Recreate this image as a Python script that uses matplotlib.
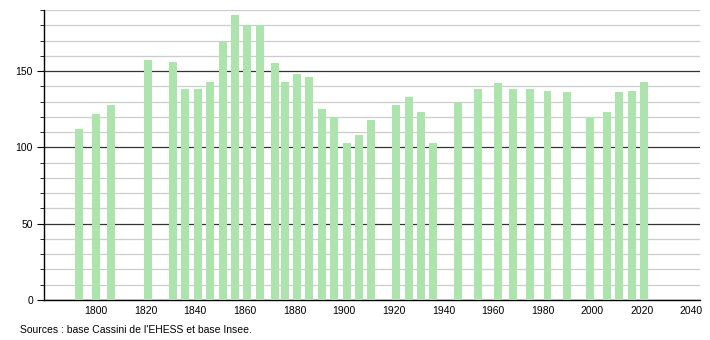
import matplotlib
matplotlib.use('Agg')
import matplotlib.pyplot as plt
from matplotlib.ticker import MultipleLocator

# census years and population
years = [1793, 1800, 1806, 1821, 1831, 1836, 1841, 1846, 1851, 1856, 1861,
         1866, 1872, 1876, 1881, 1886, 1891, 1896, 1901, 1906, 1911, 1921,
         1926, 1931, 1936, 1946, 1954, 1962, 1968, 1975, 1982, 1990, 1999,
         2006, 2011, 2016, 2021]
population = [112, 122, 128, 157, 156, 138, 138, 143, 169, 187, 180,
              180, 155, 143, 148, 146, 125, 120, 103, 108, 118, 128,
              133, 123, 103, 129, 138, 142, 138, 138, 137, 136, 120,
              123, 136, 137, 143]
x_ticks = list(range(1800, 2041, 20))
source = "Sources : base Cassini de l'EHESS et base Insee."

plt.rcParams['font.family'] = ['Liberation Sans', 'DejaVu Sans']

fig = plt.figure(figsize=(7.1, 3.4), dpi=100)
ax = fig.add_axes([0.062, 0.1176, 0.924, 0.853])

ax.bar(years, population, width=3.2, color='#ade3ad', zorder=3)

ax.set_xlim(1779, 2043.5)
ax.set_ylim(0, 190)
ax.set_xticks(x_ticks)
ax.yaxis.set_major_locator(MultipleLocator(50))
ax.yaxis.set_minor_locator(MultipleLocator(10))

ax.grid(axis='y', which='minor', color='#cccccc', linewidth=0.9, zorder=1)
ax.grid(axis='y', which='major', color='#333333', linewidth=0.9, zorder=2)

for s in ['top', 'right']:
    ax.spines[s].set_visible(False)
ax.spines['left'].set_linewidth(1.0)
ax.spines['bottom'].set_linewidth(1.0)

ax.tick_params(axis='x', length=0, labelsize=7.5, pad=4)
ax.tick_params(axis='y', which='major', length=5, labelsize=7.5, pad=3)
ax.tick_params(axis='y', which='minor', length=3)

fig.text(0.028, 0.015, source, fontsize=7.5, ha='left', va='bottom')

fig.savefig('out.png', dpi=100)
